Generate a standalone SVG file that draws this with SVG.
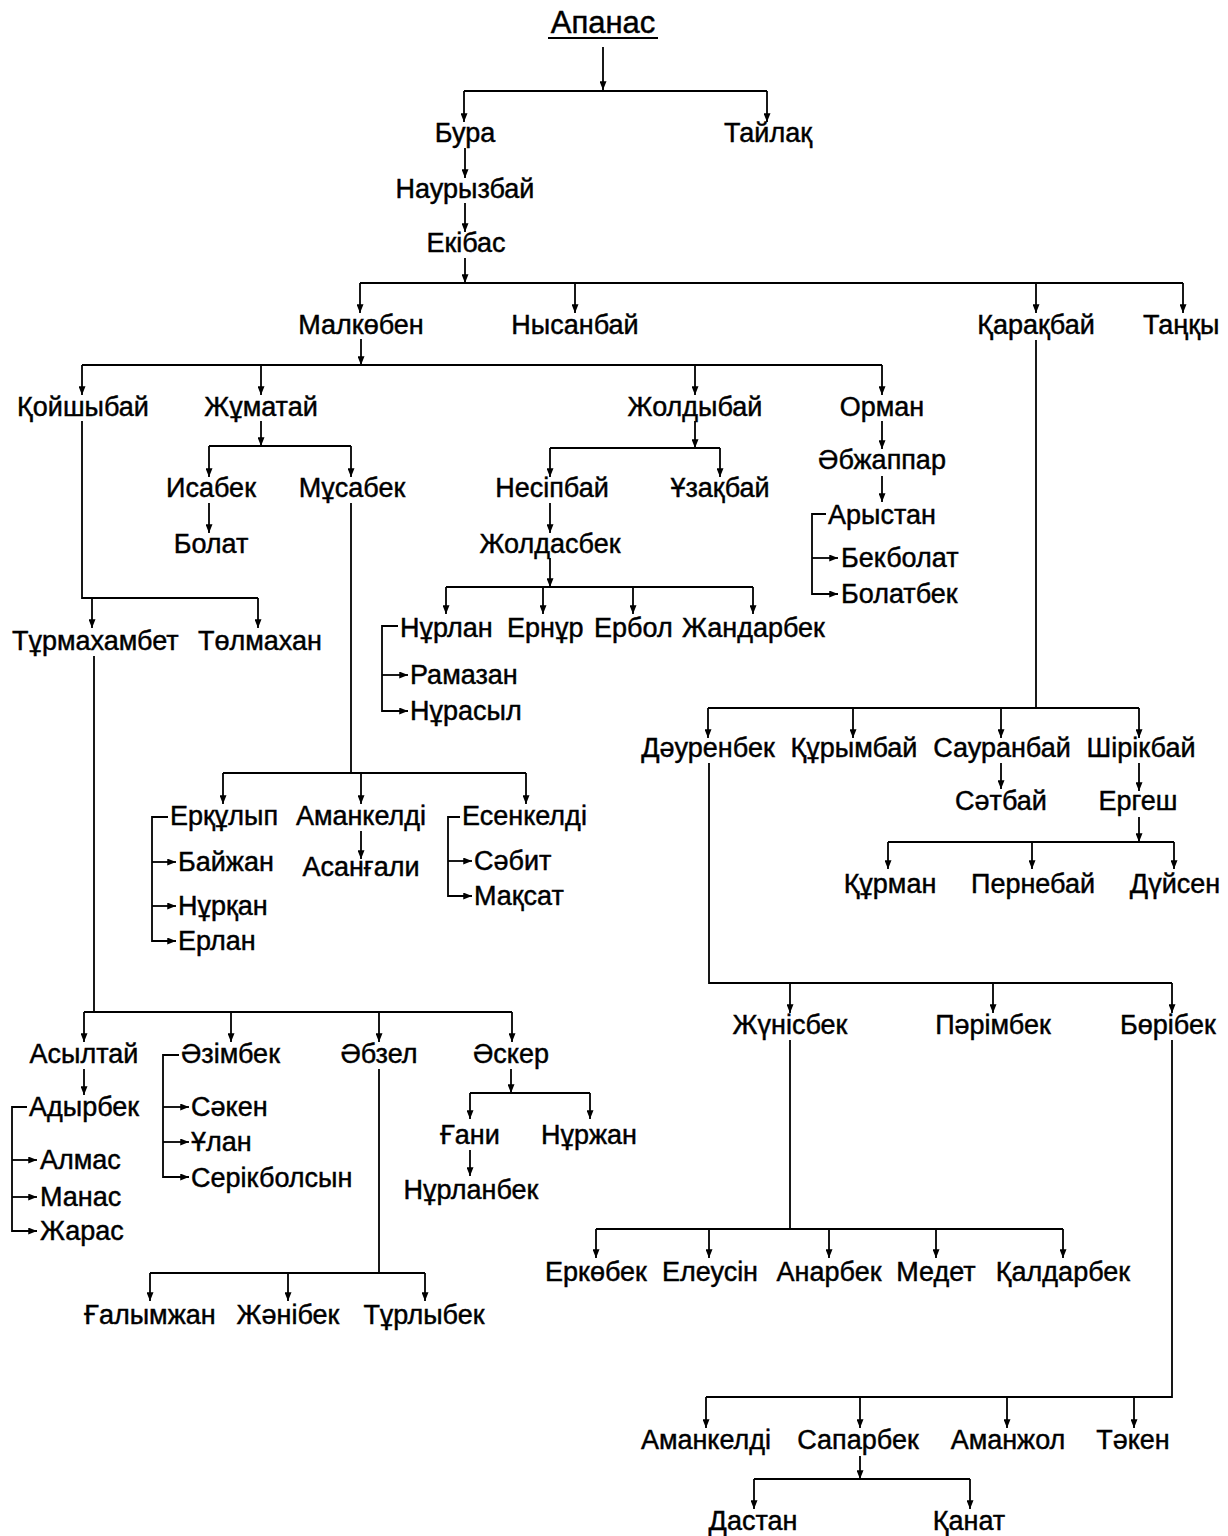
<svg xmlns="http://www.w3.org/2000/svg" width="1228" height="1536" viewBox="0 0 1228 1536">
<defs>
<style>
.t{font-family:"Liberation Sans",Arial,sans-serif;font-size:27px;fill:#000;stroke:#000;stroke-width:0.45px}
.m{text-anchor:middle}
.s{text-anchor:start}
.c{fill:none;stroke:#000;stroke-width:1.8px}
.a{marker-end:url(#ah)}
</style>
<marker id="ah" viewBox="0 0 10 8" refX="10" refY="4" markerWidth="9" markerHeight="7" markerUnits="userSpaceOnUse" orient="auto"><path d="M0,0 L10,4 L0,8 z" fill="#000"/></marker>
</defs>
<rect width="1228" height="1536" fill="#fff"/>
<g id="connectors">
<path class="c a" d="M603 47 V90"/>
<path class="c" d="M464 91 H767"/>
<path class="c a" d="M464 91 V122"/>
<path class="c a" d="M767 91 V122"/>
<path class="c a" d="M465 148 V178"/>
<path class="c a" d="M465 203 V232"/>
<path class="c a" d="M465 258 V283"/>
<path class="c" d="M360 283 H1183"/>
<path class="c a" d="M360 283 V313"/>
<path class="c a" d="M575 283 V313"/>
<path class="c a" d="M1036 283 V313"/>
<path class="c a" d="M1183 283 V313"/>
<path class="c a" d="M361 339 V365"/>
<path class="c" d="M82 365 H882"/>
<path class="c a" d="M82 365 V395"/>
<path class="c a" d="M261 365 V395"/>
<path class="c a" d="M695 365 V395"/>
<path class="c a" d="M882 365 V395"/>
<path class="c" d="M82 421 V598 H258"/>
<path class="c a" d="M92 598 V628"/>
<path class="c a" d="M258 598 V628"/>
<path class="c a" d="M261 421 V446"/>
<path class="c" d="M209 446 H351"/>
<path class="c a" d="M209 446 V477"/>
<path class="c a" d="M351 446 V477"/>
<path class="c a" d="M209 503 V533"/>
<path class="c" d="M351 503 V773"/>
<path class="c" d="M223 773 H526"/>
<path class="c a" d="M223 773 V804"/>
<path class="c a" d="M361 773 V804"/>
<path class="c a" d="M526 773 V804"/>
<path class="c a" d="M168 817 H152 V941 H176"/>
<path class="c a" d="M152 862 H176"/>
<path class="c a" d="M152 906 H176"/>
<path class="c a" d="M361 831 V859"/>
<path class="c a" d="M460 817 H448 V896 H472"/>
<path class="c a" d="M448 861 H472"/>
<path class="c a" d="M695 421 V448"/>
<path class="c" d="M550 448 H720"/>
<path class="c a" d="M550 448 V477"/>
<path class="c a" d="M720 448 V477"/>
<path class="c a" d="M550 503 V533"/>
<path class="c a" d="M550 558 V587"/>
<path class="c" d="M446 587 H753"/>
<path class="c a" d="M446 587 V614"/>
<path class="c a" d="M543 587 V614"/>
<path class="c a" d="M633 587 V614"/>
<path class="c a" d="M753 587 V614"/>
<path class="c a" d="M398 626 H382 V711 H408"/>
<path class="c a" d="M382 675 H408"/>
<path class="c a" d="M882 421 V449"/>
<path class="c a" d="M882 476 V502"/>
<path class="c a" d="M826 514 H812 V594 H838"/>
<path class="c a" d="M812 558 H838"/>
<path class="c" d="M94 656 V1012"/>
<path class="c" d="M84 1012 H512"/>
<path class="c a" d="M84 1012 V1042"/>
<path class="c a" d="M231 1012 V1042"/>
<path class="c a" d="M379 1012 V1042"/>
<path class="c a" d="M512 1012 V1042"/>
<path class="c a" d="M84 1069 V1095"/>
<path class="c a" d="M27 1107 H12 V1231 H37"/>
<path class="c a" d="M12 1160 H37"/>
<path class="c a" d="M12 1197 H37"/>
<path class="c a" d="M179 1055 H163 V1177 H189"/>
<path class="c a" d="M163 1107 H189"/>
<path class="c a" d="M163 1142 H189"/>
<path class="c" d="M379 1069 V1273"/>
<path class="c" d="M150 1273 H425"/>
<path class="c a" d="M150 1273 V1301"/>
<path class="c a" d="M288 1273 V1301"/>
<path class="c a" d="M425 1273 V1301"/>
<path class="c a" d="M511 1069 V1093"/>
<path class="c" d="M470 1093 H590"/>
<path class="c a" d="M470 1093 V1119"/>
<path class="c a" d="M590 1093 V1119"/>
<path class="c a" d="M470 1150 V1176"/>
<path class="c" d="M1036 340 V708"/>
<path class="c" d="M708 708 H1139"/>
<path class="c a" d="M708 708 V738"/>
<path class="c a" d="M853 708 V738"/>
<path class="c a" d="M1001 708 V738"/>
<path class="c a" d="M1139 708 V738"/>
<path class="c a" d="M1001 763 V789"/>
<path class="c a" d="M1139 763 V791"/>
<path class="c a" d="M1139 817 V842"/>
<path class="c" d="M888 842 H1174"/>
<path class="c a" d="M888 842 V869"/>
<path class="c a" d="M1032 842 V869"/>
<path class="c a" d="M1174 842 V869"/>
<path class="c" d="M709 763 V983 H1172"/>
<path class="c a" d="M790 983 V1013"/>
<path class="c a" d="M993 983 V1013"/>
<path class="c a" d="M1172 983 V1013"/>
<path class="c" d="M790 1040 V1229"/>
<path class="c" d="M596 1229 H1063"/>
<path class="c a" d="M596 1229 V1258"/>
<path class="c a" d="M709 1229 V1258"/>
<path class="c a" d="M829 1229 V1258"/>
<path class="c a" d="M936 1229 V1258"/>
<path class="c a" d="M1063 1229 V1258"/>
<path class="c" d="M1172 1040 V1397 H706"/>
<path class="c a" d="M706 1397 V1428"/>
<path class="c a" d="M860 1397 V1428"/>
<path class="c a" d="M1007 1397 V1428"/>
<path class="c a" d="M1134 1397 V1428"/>
<path class="c a" d="M860 1456 V1479"/>
<path class="c" d="M754 1479 H970"/>
<path class="c a" d="M754 1479 V1509"/>
<path class="c a" d="M970 1479 V1509"/>
</g>
<g id="n-apanas"><text class="t m" x="603" y="33" style="font-size:31px">Апанас</text><line x1="548" y1="38" x2="658" y2="38" stroke="#000" stroke-width="2"/></g>
<g id="n-bura"><text class="t m" x="465" y="142">Бура</text></g>
<g id="n-tailaq"><text class="t m" x="768" y="142">Тайлақ</text></g>
<g id="n-nauryzbai"><text class="t m" x="465" y="198">Наурызбай</text></g>
<g id="n-ekibas"><text class="t m" x="466" y="252">Екібас</text></g>
<g id="n-malkoben"><text class="t m" x="361" y="334">Малкөбен</text></g>
<g id="n-nysanbai"><text class="t m" x="575" y="334">Нысанбай</text></g>
<g id="n-qaraqbai"><text class="t m" x="1036" y="334">Қарақбай</text></g>
<g id="n-tanqy"><text class="t s" x="1143" y="334">Таңқы</text></g>
<g id="n-qoishybai"><text class="t m" x="83" y="416">Қойшыбай</text></g>
<g id="n-zhumatai"><text class="t m" x="261" y="416">Жұматай</text></g>
<g id="n-zholdybai"><text class="t m" x="695" y="416">Жолдыбай</text></g>
<g id="n-orman"><text class="t m" x="882" y="416">Орман</text></g>
<g id="n-abzhappar"><text class="t m" x="882" y="469">Әбжаппар</text></g>
<g id="n-arystan"><text class="t s" x="828" y="524">Арыстан</text></g>
<g id="n-bekbolat"><text class="t s" x="841" y="567">Бекболат</text></g>
<g id="n-bolatbek"><text class="t s" x="841" y="603">Болатбек</text></g>
<g id="n-isabek"><text class="t m" x="211" y="497">Исабек</text></g>
<g id="n-musabek"><text class="t m" x="352" y="497">Мұсабек</text></g>
<g id="n-bolat"><text class="t m" x="211" y="553">Болат</text></g>
<g id="n-nesipbai"><text class="t m" x="552" y="497">Несіпбай</text></g>
<g id="n-uzaqbai"><text class="t m" x="720" y="497">Ұзақбай</text></g>
<g id="n-zholdasbek"><text class="t m" x="550" y="553">Жолдасбек</text></g>
<g id="n-nurlan"><text class="t s" x="400" y="637">Нұрлан</text></g>
<g id="n-ernur"><text class="t s" x="507" y="637">Ернұр</text></g>
<g id="n-erbol"><text class="t s" x="594" y="637">Ербол</text></g>
<g id="n-zhandarbek"><text class="t s" x="682" y="637">Жандарбек</text></g>
<g id="n-ramazan"><text class="t s" x="410" y="684">Рамазан</text></g>
<g id="n-nurasyl"><text class="t s" x="410" y="720">Нұрасыл</text></g>
<g id="n-turmakhambet"><text class="t s" x="12" y="650">Тұрмахамбет</text></g>
<g id="n-tolmakhan"><text class="t s" x="198" y="650">Төлмахан</text></g>
<g id="n-erqulyp"><text class="t s" x="170" y="825">Ерқұлып</text></g>
<g id="n-baizhan"><text class="t s" x="178" y="871">Байжан</text></g>
<g id="n-nurqan"><text class="t s" x="178" y="915">Нұрқан</text></g>
<g id="n-erlan"><text class="t s" x="178" y="950">Ерлан</text></g>
<g id="n-amankeldi1"><text class="t m" x="361" y="825">Аманкелді</text></g>
<g id="n-asangali"><text class="t m" x="361" y="876">Асанғали</text></g>
<g id="n-esenkeldi"><text class="t s" x="462" y="825">Есенкелді</text></g>
<g id="n-sabit"><text class="t s" x="474" y="870">Сәбит</text></g>
<g id="n-maqsat"><text class="t s" x="474" y="905">Мақсат</text></g>
<g id="n-daurenbek"><text class="t m" x="708" y="757">Дәуренбек</text></g>
<g id="n-qurymbai"><text class="t m" x="854" y="757">Құрымбай</text></g>
<g id="n-sauranbai"><text class="t m" x="1002" y="757">Сауранбай</text></g>
<g id="n-shirikbai"><text class="t m" x="1141" y="757">Шірікбай</text></g>
<g id="n-satbai"><text class="t m" x="1001" y="810">Сәтбай</text></g>
<g id="n-ergesh"><text class="t m" x="1138" y="810">Ергеш</text></g>
<g id="n-qurman"><text class="t m" x="890" y="893">Құрман</text></g>
<g id="n-pernebai"><text class="t m" x="1033" y="893">Пернебай</text></g>
<g id="n-duisen"><text class="t m" x="1175" y="893">Дүйсен</text></g>
<g id="n-zhunisbek"><text class="t m" x="790" y="1034">Жүнісбек</text></g>
<g id="n-parimbek"><text class="t m" x="993" y="1034">Пәрімбек</text></g>
<g id="n-boribek"><text class="t s" x="1120" y="1034">Бөрібек</text></g>
<g id="n-erkobek"><text class="t m" x="596" y="1281">Еркөбек</text></g>
<g id="n-eleusin"><text class="t m" x="710" y="1281">Елеусін</text></g>
<g id="n-anarbek"><text class="t m" x="829" y="1281">Анарбек</text></g>
<g id="n-medet"><text class="t m" x="936" y="1281">Медет</text></g>
<g id="n-qaldarbek"><text class="t m" x="1063" y="1281">Қалдарбек</text></g>
<g id="n-amankeldi2"><text class="t m" x="706" y="1449">Аманкелді</text></g>
<g id="n-saparbek"><text class="t m" x="858" y="1449">Сапарбек</text></g>
<g id="n-amanzhol"><text class="t m" x="1008" y="1449">Аманжол</text></g>
<g id="n-taken"><text class="t m" x="1133" y="1449">Тәкен</text></g>
<g id="n-dastan"><text class="t m" x="753" y="1530">Дастан</text></g>
<g id="n-qanat"><text class="t m" x="969" y="1530">Қанат</text></g>
<g id="n-asyltai"><text class="t m" x="84" y="1063">Асылтай</text></g>
<g id="n-azimbek"><text class="t s" x="181" y="1063">Әзімбек</text></g>
<g id="n-abzel"><text class="t m" x="379" y="1063">Әбзел</text></g>
<g id="n-asker"><text class="t m" x="511" y="1063">Әскер</text></g>
<g id="n-adyrbek"><text class="t s" x="29" y="1116">Адырбек</text></g>
<g id="n-almas"><text class="t s" x="40" y="1169">Алмас</text></g>
<g id="n-manas"><text class="t s" x="40" y="1206">Манас</text></g>
<g id="n-zharas"><text class="t s" x="40" y="1240">Жарас</text></g>
<g id="n-saken"><text class="t s" x="191" y="1116">Сәкен</text></g>
<g id="n-ulan"><text class="t s" x="191" y="1151">Ұлан</text></g>
<g id="n-serikbolsyn"><text class="t s" x="191" y="1187">Серікболсын</text></g>
<g id="n-gani"><text class="t m" x="470" y="1144">Ғани</text></g>
<g id="n-nurzhan"><text class="t m" x="589" y="1144">Нұржан</text></g>
<g id="n-nurlanbek"><text class="t m" x="471" y="1199">Нұрланбек</text></g>
<g id="n-galymzhan"><text class="t m" x="150" y="1324">Ғалымжан</text></g>
<g id="n-zhanibek"><text class="t m" x="288" y="1324">Жәнібек</text></g>
<g id="n-turlybek"><text class="t m" x="424" y="1324">Тұрлыбек</text></g>
</svg>
